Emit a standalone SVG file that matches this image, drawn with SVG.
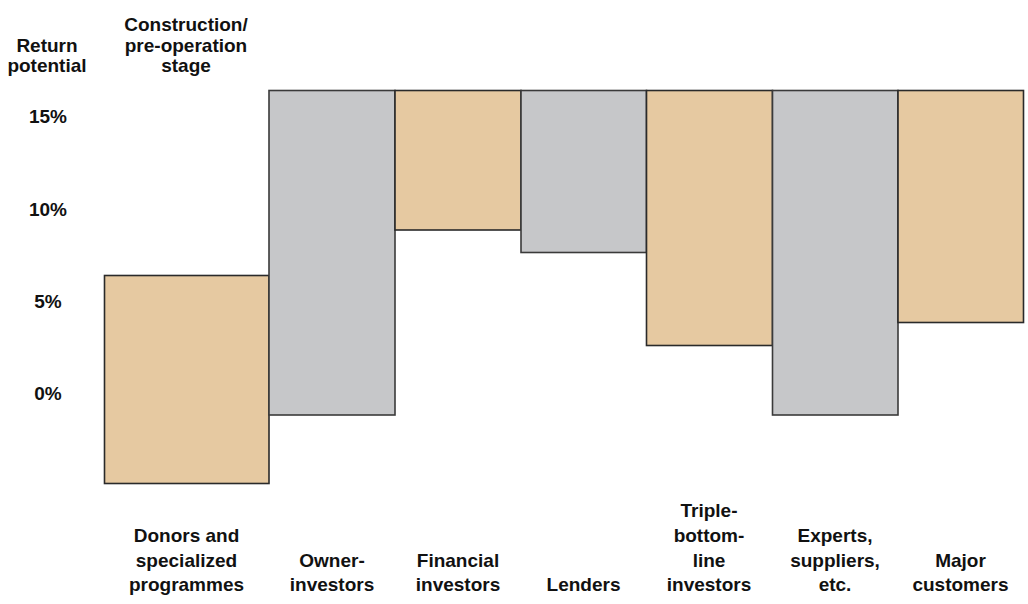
<svg xmlns="http://www.w3.org/2000/svg" width="1028" height="604" viewBox="0 0 1028 604">
<style>
text{font-family:"Liberation Sans",Arial,sans-serif;font-weight:bold;font-size:19px;fill:#111;text-anchor:middle}
.tan{fill:#E6C9A1;stroke:#2a2a2a;stroke-width:1.6}
.gray{fill:#C6C7C9;stroke:#3a3a3a;stroke-width:1.6}
</style>
<rect width="1028" height="604" fill="#fff"/>
<g id="axis-title">
<text x="47" y="52">Return</text>
<text x="47" y="72">potential</text>
</g>
<g id="stage-title">
<text x="186" y="31">Construction/</text>
<text x="186" y="51.5">pre-operation</text>
<text x="186" y="72">stage</text>
</g>
<g id="y-labels">
<text x="48" y="123">15%</text>
<text x="48" y="216">10%</text>
<text x="48" y="308">5%</text>
<text x="48" y="400">0%</text>
</g>
<g id="bar-donors"><rect class="tan" x="104.5" y="275.5" width="164.5" height="208"/>
<text x="186.5" y="542">Donors and</text><text x="186.5" y="566.5">specialized</text><text x="186.5" y="591">programmes</text></g>
<g id="bar-owner"><rect class="gray" x="269" y="90.5" width="126" height="324.5"/>
<text x="332" y="566.5">Owner-</text><text x="332" y="591">investors</text></g>
<g id="bar-financial"><rect class="tan" x="395" y="90.5" width="126" height="139.5"/>
<text x="458" y="566.5">Financial</text><text x="458" y="591">investors</text></g>
<g id="bar-lenders"><rect class="gray" x="521" y="90.5" width="125.5" height="162"/>
<text x="583.5" y="591">Lenders</text></g>
<g id="bar-triple"><rect class="tan" x="646.5" y="90.5" width="126" height="255"/>
<text x="709" y="517">Triple-</text><text x="709" y="541.5">bottom-</text><text x="709" y="566.5">line</text><text x="709" y="591">investors</text></g>
<g id="bar-experts"><rect class="gray" x="772.5" y="90.5" width="125.5" height="324.5"/>
<text x="835" y="541.5">Experts,</text><text x="835" y="566.5">suppliers,</text><text x="835" y="591">etc.</text></g>
<g id="bar-major"><rect class="tan" x="898" y="90.5" width="125.5" height="232"/>
<text x="960.5" y="566.5">Major</text><text x="960.5" y="591">customers</text></g>
<g id="connectors"></g>
</svg>
